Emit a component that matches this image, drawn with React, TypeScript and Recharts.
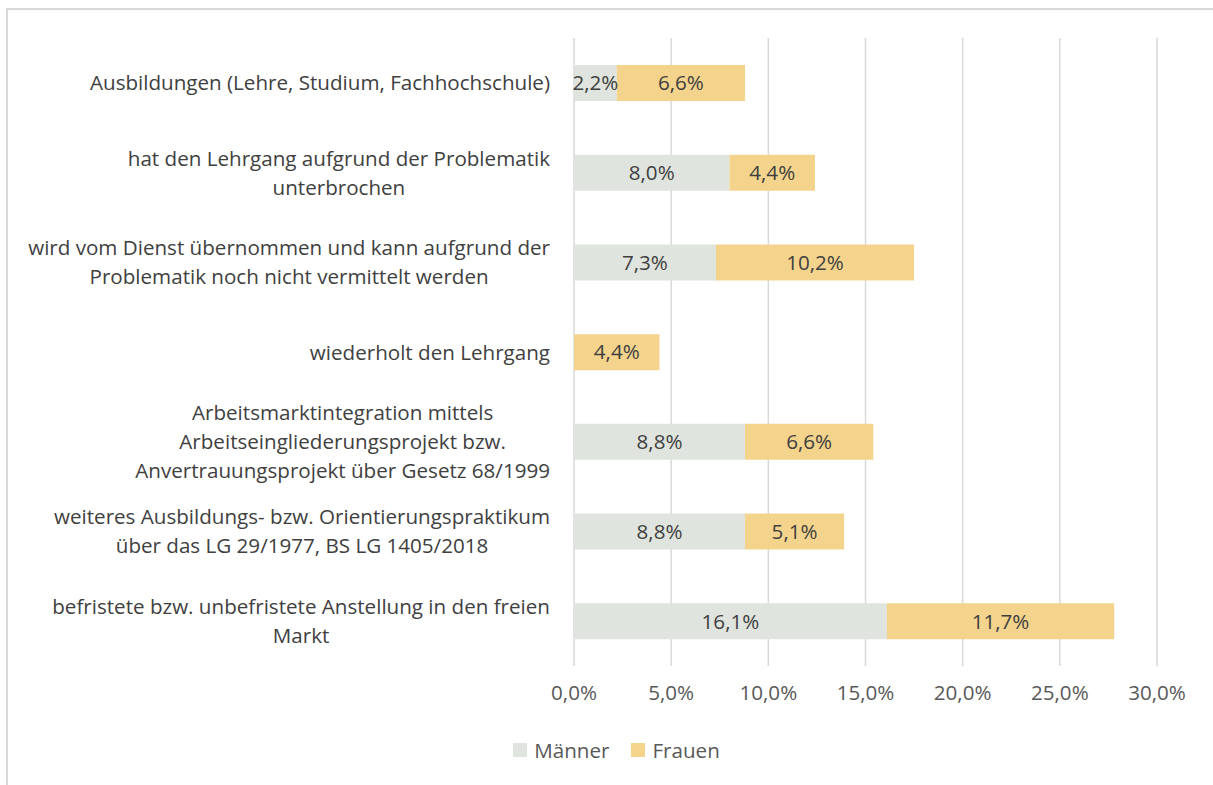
import React from 'react'
import { BarChart, Bar, XAxis, YAxis, CartesianGrid, Legend, LabelList } from 'recharts'

const categories = [
  'Ausbildungen (Lehre, Studium, Fachhochschule)',
  'hat den Lehrgang aufgrund der Problematik\nunterbrochen',
  'wird vom Dienst übernommen und kann aufgrund der\nProblematik noch nicht vermittelt werden',
  'wiederholt den Lehrgang',
  'Arbeitsmarktintegration mittels\nArbeitseingliederungsprojekt bzw.\nAnvertrauungsprojekt über Gesetz 68/1999',
  'weiteres Ausbildungs- bzw. Orientierungspraktikum\nüber das LG 29/1977, BS LG 1405/2018',
  'befristete bzw. unbefristete Anstellung in den freien\nMarkt',
]
const maenner = [2.2, 8.0, 7.3, 0, 8.8, 8.8, 16.1]
const frauen = [6.6, 4.4, 10.2, 4.4, 6.6, 5.1, 11.7]
const xTicks = [0, 5, 10, 15, 20, 25, 30]

const data = categories.map((name, i) => ({ name, maenner: maenner[i], frauen: frauen[i] }))

const FONT = '"Open Sans", sans-serif'
const SIZE = 20.6
const fmt = (v: number) => v.toFixed(1).replace('.', ',') + '%'

function CategoryTick(props: any) {
  const { x, y, payload } = props
  const w = x - 16
  return (
    <foreignObject x={0} y={y - 50} width={w} height={100}>
      <div
        style={{
          display: 'flex',
          alignItems: 'center',
          justifyContent: 'flex-end',
          height: '100%',
          fontFamily: FONT,
          fontSize: SIZE,
          color: '#404040',
        }}
      >
        <div style={{ textAlign: 'center', lineHeight: '29px', whiteSpace: 'pre-line' }}>{payload.value}</div>
      </div>
    </foreignObject>
  )
}

function LegendContent() {
  const items = [
    { label: 'Männer', color: '#DFE4DE' },
    { label: 'Frauen', color: '#F4D48D' },
  ]
  return (
    <div
      style={{
        display: 'flex',
        justifyContent: 'center',
        gap: 22,
        paddingLeft: 20,
        fontFamily: FONT,
        fontSize: SIZE,
        color: '#595959',
      }}
    >
      {items.map((it) => (
        <div key={it.label} style={{ display: 'flex', alignItems: 'center', gap: 7 }}>
          <span style={{ width: 14, height: 14, background: it.color, display: 'inline-block' }} />
          <span>{it.label}</span>
        </div>
      ))}
    </div>
  )
}

export default function App() {
  return (
    <div style={{ position: 'absolute', left: 0, top: 0, width: 1213, height: 785, background: '#fff', overflow: 'hidden' }}>
      <div
        style={{
          position: 'absolute',
          left: 6,
          top: 8,
          width: 1300,
          height: 900,
          borderLeft: '2px solid #d9d9d9',
          borderTop: '2px solid #d9d9d9',
        }}
      />
      <BarChart
        width={1213}
        height={785}
        data={data}
        layout="vertical"
        margin={{ top: 38, right: 56, bottom: 19, left: 0 }}
        style={{ position: 'absolute', left: 0, top: 0 }}
      >
        <CartesianGrid horizontal={false} stroke="#d9d9d9" strokeWidth={1.5} />
        <XAxis
          type="number"
          domain={[0, 30]}
          ticks={xTicks}
          tickFormatter={fmt}
          axisLine={false}
          tickLine={false}
          tick={{ fill: '#595959', fontSize: SIZE, fontFamily: FONT }}
          tickMargin={13}
          height={70}
        />
        <YAxis
          type="category"
          dataKey="name"
          width={574}
          axisLine={false}
          tickLine={false}
          tick={<CategoryTick />}
          interval={0}
        />
        <Legend verticalAlign="bottom" content={<LegendContent />} wrapperStyle={{ left: 0, width: 1213 }} height={30} />
        <Bar dataKey="maenner" name="Männer" stackId="a" fill="#DFE4DE" barSize={36} isAnimationActive={false}>
          <LabelList
            dataKey="maenner"
            position="center"
            formatter={(v: any) => (v ? fmt(v) : '')}
            style={{ fill: '#404040', fontSize: SIZE, fontFamily: FONT }}
          />
        </Bar>
        <Bar dataKey="frauen" name="Frauen" stackId="a" fill="#F4D48D" barSize={36} isAnimationActive={false}>
          <LabelList
            dataKey="frauen"
            position="center"
            formatter={(v: any) => (v ? fmt(v) : '')}
            style={{ fill: '#404040', fontSize: SIZE, fontFamily: FONT }}
          />
        </Bar>
      </BarChart>
    </div>
  )
}
